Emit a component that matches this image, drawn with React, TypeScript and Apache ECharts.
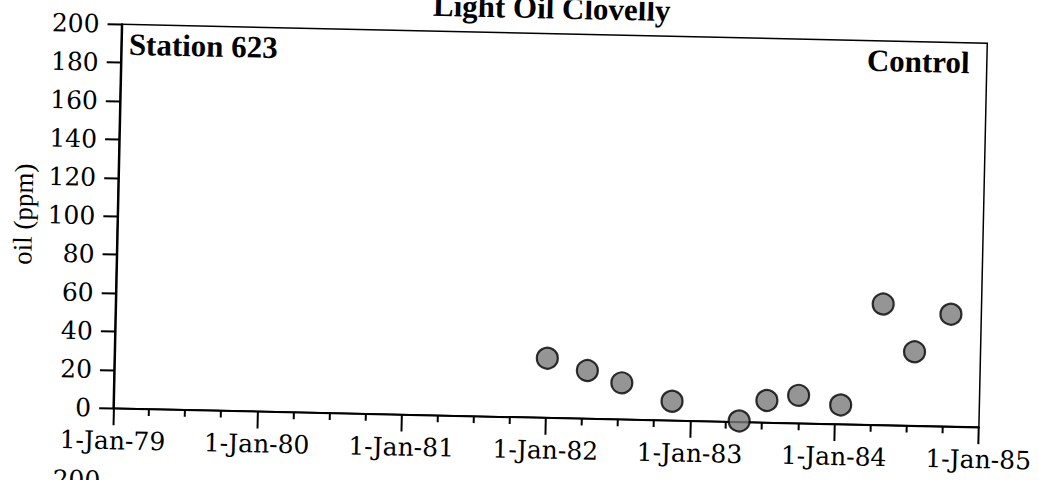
import React, { useEffect, useRef } from "react";
import * as echarts from "echarts";

// Sampling dates and measured oil concentration at Station 623 (control site)
const sampleDates = [
  "1982-01-01",
  "1982-04-13",
  "1982-07-10",
  "1982-11-15",
  "1983-05-05",
  "1983-07-13",
  "1983-10-01",
  "1984-01-16",
  "1984-04-27",
  "1984-07-18",
  "1984-10-16",
];
const oilPpm = [31, 25, 19, 10, 0.5, 11.5, 14.5, 10, 63, 38.5, 58.5];

// Axis ranges and tick positions
const xStart = "1979-01-01";
const xEnd = "1985-01-01";
const yearTicks = [
  "1979-01-01",
  "1980-01-01",
  "1981-01-01",
  "1982-01-01",
  "1983-01-01",
  "1984-01-01",
  "1985-01-01",
];
const quarterMonths = ["04", "07", "10"];
const yMin = 0;
const yMax = 200;
const yStep = 20;

const chartTitle = "Light Oil Clovelly";
const stationLabel = "Station 623";
const siteLabel = "Control";
const yAxisName = "oil (ppm)";
const nextPanelTop = "200";

const MONTHS = ["Jan", "Feb", "Mar", "Apr", "May", "Jun", "Jul", "Aug", "Sep", "Oct", "Nov", "Dec"];

function formatDate(ts: number): string {
  const d = new Date(ts);
  const yy = String(d.getUTCFullYear() % 100).padStart(2, "0");
  return `${d.getUTCDate()}-${MONTHS[d.getUTCMonth()]}-${yy}`;
}

export default function App() {
  const ref = useRef<HTMLDivElement>(null);

  useEffect(() => {
    if (!ref.current) return;
    const chart = echarts.init(ref.current, undefined, { renderer: "svg" });

    const t0 = Date.parse(xStart);
    const t1 = Date.parse(xEnd);
    const yearTs = yearTicks.map((d) => Date.parse(d));
    const quarterTs: number[] = [];
    yearTicks.slice(0, -1).forEach((d) => {
      const y = d.slice(0, 4);
      quarterMonths.forEach((m) => quarterTs.push(Date.parse(`${y}-${m}-01`)));
    });

    const tickFont = "DejaVu Serif";
    const serif = "Liberation Serif";

    chart.setOption({
      animation: false,
      backgroundColor: "#fff",
      textStyle: { fontFamily: serif },
      grid: {
        left: 117.25,
        top: 33.75,
        width: 869,
        height: 384,
        show: true,
        borderColor: "#000",
        borderWidth: 1.5,
        backgroundColor: "transparent",
      },
      xAxis: [
        {
          type: "value",
          min: t0,
          max: t1,
          position: "bottom",
          axisLine: { show: true, onZero: false, lineStyle: { color: "#000", width: 2 } },
          axisTick: {
            show: true,
            customValues: yearTs,
            length: 17,
            lineStyle: { color: "#000", width: 2 },
          },
          axisLabel: {
            customValues: yearTs,
            formatter: (v: number) => formatDate(v),
            fontFamily: tickFont,
            fontSize: 25,
            color: "#000",
            margin: 20,
            showMinLabel: true,
            showMaxLabel: true,
          },
          splitLine: { show: false },
        },
        {
          type: "value",
          min: t0,
          max: t1,
          position: "bottom",
          axisLine: { show: false, onZero: false },
          axisTick: {
            show: true,
            customValues: quarterTs,
            length: 7,
            lineStyle: { color: "#000", width: 2 },
          },
          axisLabel: { show: false },
          splitLine: { show: false },
        },
      ],
      yAxis: {
        type: "value",
        min: yMin,
        max: yMax,
        interval: yStep,
        axisLine: { show: true, lineStyle: { color: "#000", width: 2 } },
        axisTick: { show: true, length: 14, lineStyle: { color: "#000", width: 2 } },
        axisLabel: {
          fontFamily: tickFont,
          fontSize: 25,
          color: "#000",
          margin: 22,
        },
        splitLine: { show: false },
        name: yAxisName,
        nameLocation: "middle",
        nameGap: 78,
        nameTextStyle: { fontFamily: serif, fontSize: 27, color: "#000" },
      },
      series: [
        {
          type: "scatter",
          xAxisIndex: 0,
          yAxisIndex: 0,
          clip: false,
          symbol: "circle",
          symbolSize: 21,
          itemStyle: { color: "#7a7a7a", borderColor: "#000", borderWidth: 2.2 },
          data: sampleDates.map((d, i) => [Date.parse(d), oilPpm[i]]),
        },
      ],
      graphic: [
        {
          type: "text",
          x: 547,
          y: 8,
          style: {
            text: chartTitle,
            fontFamily: serif,
            fontWeight: "bold",
            fontSize: 31,
            fill: "#000",
            align: "center",
            verticalAlign: "middle",
          },
        },
        {
          type: "text",
          x: 125,
          y: 53.5,
          style: {
            text: stationLabel,
            fontFamily: serif,
            fontWeight: "bold",
            fontSize: 31,
            fill: "#000",
            align: "left",
            verticalAlign: "middle",
          },
        },
        {
          type: "text",
          x: 966,
          y: 53.5,
          style: {
            text: siteLabel,
            fontFamily: serif,
            fontWeight: "bold",
            fontSize: 31,
            fill: "#000",
            align: "right",
            verticalAlign: "middle",
          },
        },
        {
          type: "text",
          x: 106,
          y: 490,
          style: {
            text: nextPanelTop,
            fontFamily: tickFont,
            fontSize: 25,
            fill: "#000",
            align: "right",
            verticalAlign: "middle",
          },
        },
      ],
    });

    return () => chart.dispose();
  }, []);

  return (
    <div
      style={{
        position: "fixed",
        left: 0,
        top: 0,
        width: 1039,
        height: 480,
        overflow: "hidden",
        background: "#fff",
      }}
    >
      <div
        ref={ref}
        style={{
          position: "absolute",
          left: 0,
          top: 0,
          width: 1039,
          height: 520,
          transform: "rotate(1.25deg)",
          transformOrigin: "550.75px 225.75px",
        }}
      />
    </div>
  );
}
